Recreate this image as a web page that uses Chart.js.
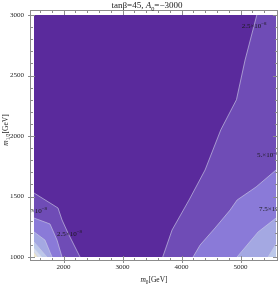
<!DOCTYPE html>
<html lang="en">
<head>
  <meta charset="UTF-8">
  <title>tanβ=45, A0=-3000</title>
  <script src="https://cdn.jsdelivr.net/npm/chart.js"></script>
  <style>
    html, body { margin: 0; padding: 0; background: #fff; }
    #wrap { width: 280px; height: 285px; }
  </style>
</head>
<body>
  <div id="wrap"><canvas id="contourChart" width="280" height="285"></canvas></div>

  <script>
    // axis ranges and ticks
    const xRange = [1500, 5600];
    const yRange = [1000, 3000];
    const xTicks = [2000, 3000, 4000, 5000];
    const yTicks = [1000, 1500, 2000, 2500, 3000];
    const xMinor = [1600, 1800, 2200, 2400, 2600, 2800, 3200, 3400, 3600, 3800, 4200, 4400, 4600, 4800, 5200, 5400];
    const yMinor = [1100, 1200, 1300, 1400, 1600, 1700, 1800, 1900, 2100, 2200, 2300, 2400, 2600, 2700, 2800, 2900];

    // contour boundaries, right side (m0, m1/2)
    const r1X = [5275, 5076, 4930, 4664, 4398, 4127, 3839, 3681];
    const r1Y = [3000, 2628, 2300, 2050, 1719, 1471, 1223, 1000];
    const r2X = [5600, 5263, 4941, 4822, 4568, 4314, 4195];
    const r2Y = [1719, 1579, 1471, 1388, 1240, 1099, 1000];
    const r3X = [5600, 5297, 4940];
    const r3Y = [1322, 1207, 1000];
    const r4X = [5600, 5466];
    const r4Y = [1107, 1000];

    // contour boundaries, lower left corner
    const l1X = [1500, 1907, 1975, 2076, 2280];
    const l1Y = [1529, 1405, 1306, 1198, 1000];
    const l2X = [1500, 1771, 1890, 1975];
    const l2Y = [1322, 1273, 1140, 1000];
    const l3X = [1500, 1686, 1805];
    const l3Y = [1207, 1140, 1000];
    const l4X = [1500, 1720];
    const l4Y = [1124, 1000];
    const l5X = [1500, 1636];
    const l5Y = [1074, 1000];
    const l6X = [1500, 1568];
    const l6Y = [1041, 1000];

    // colours for level 0 (background) .. 6
    const levelColors = ['#5a2a9c', '#6f4cb6', '#8a7ad8', '#a4a8e2', '#bcc8ea', '#d6dded', '#ece6cf'];

    // contour labels: text, x, y, align
    const labelText = ['2.5', '5.', '7.5', '5.', '2.5'];
    const labelX = [5229, 5280, 5314, 1720, 1890];
    const labelY = [2917, 1843, 1397, 1388, 1198];
    const labelAlign = ['center', 'left', 'left', 'right', 'left'];

    const pts = (xs, ys) => xs.map((x, i) => ({ x: x, y: ys[i] }));

    function region(xs, ys, level, closeTop) {
      const data = pts(xs, ys);
      if (xs[0] === xRange[0]) {
        data.push({ x: xRange[0], y: yRange[0] });
      } else {
        data.push({ x: xRange[1], y: yRange[0] });
        if (closeTop) data.push({ x: xRange[1], y: yRange[1] });
      }
      return {
        data: data,
        showLine: true,
        fill: 'shape',
        backgroundColor: levelColors[level],
        borderColor: levelColors[level],
        borderWidth: 0,
        pointRadius: 0,
        tension: 0,
        order: 20 - level
      };
    }

    function contourLine(xs, ys) {
      return {
        data: pts(xs, ys),
        showLine: true,
        fill: false,
        borderColor: 'rgba(205,205,230,0.8)',
        borderWidth: 0.8,
        pointRadius: 0,
        tension: 0,
        order: 0
      };
    }

    const datasets = [
      region(r1X, r1Y, 1, true),
      region(r2X, r2Y, 2),
      region(r3X, r3Y, 3),
      region(r4X, r4Y, 4),
      region(l1X, l1Y, 1),
      region(l2X, l2Y, 2),
      region(l3X, l3Y, 3),
      region(l4X, l4Y, 4),
      region(l5X, l5Y, 5),
      region(l6X, l6Y, 6),
      contourLine(r1X, r1Y), contourLine(r2X, r2Y), contourLine(r3X, r3Y), contourLine(r4X, r4Y),
      contourLine(l1X, l1Y), contourLine(l2X, l2Y), contourLine(l3X, l3Y), contourLine(l4X, l4Y),
      contourLine(l5X, l5Y), contourLine(l6X, l6Y)
    ];

    const SERIF = '"Liberation Serif", "DejaVu Serif", serif';

    // draw a line of text made of parts (italic, subscript, superscript)
    function rich(ctx, parts, x, y, align, size) {
      const segs = parts.map(p => {
        const s = (p.sub || p.sup) ? size * 0.7 : size;
        const font = (p.it ? 'italic ' : '') + s + 'px ' + SERIF;
        ctx.font = font;
        return { t: p.t, font: font, w: ctx.measureText(p.t).width, dy: p.sub ? size * 0.28 : (p.sup ? -size * 0.4 : 0) };
      });
      const total = segs.reduce((a, s) => a + s.w, 0);
      let cx = align === 'center' ? x - total / 2 : (align === 'right' ? x - total : x);
      ctx.textAlign = 'left';
      ctx.textBaseline = 'alphabetic';
      segs.forEach(s => {
        ctx.font = s.font;
        ctx.fillText(s.t, cx, y + s.dy);
        cx += s.w;
      });
    }

    const decor = {
      id: 'decor',
      beforeDraw(chart) {
        const { ctx, chartArea: a } = chart;
        ctx.save();
        ctx.fillStyle = '#fff';
        ctx.fillRect(0, 0, chart.width, chart.height);
        ctx.fillStyle = levelColors[0];
        ctx.fillRect(a.left, a.top, a.right - a.left, a.bottom - a.top);
        ctx.restore();
      },
      afterDraw(chart) {
        const { ctx, chartArea: a } = chart;
        const xs = chart.scales.x, ys = chart.scales.y;
        const fl = a.left - 4, ft = a.top - 5, fr = a.right + 2, fb = a.bottom + 4;
        ctx.save();

        // contour labels, clipped to the frame
        ctx.save();
        ctx.beginPath();
        ctx.rect(fl, ft, fr - fl, fb - ft);
        ctx.clip();
        ctx.fillStyle = '#1a1a1a';
        labelText.forEach((t, i) => {
          rich(ctx, [{ t: t + '×10' }, { t: '−8', sup: true }],
            xs.getPixelForValue(labelX[i]), ys.getPixelForValue(labelY[i]) + 2.5, labelAlign[i], 7);
        });
        ctx.restore();

        // frame
        ctx.strokeStyle = '#8c8c8c';
        ctx.lineWidth = 1;
        ctx.strokeRect(fl + 0.5, ft + 0.5, fr - fl - 1, fb - ft - 1);

        // inward ticks on all four sides
        ctx.beginPath();
        xTicks.forEach(v => {
          const p = Math.round(xs.getPixelForValue(v)) + 0.5;
          ctx.moveTo(p, fb + 2); ctx.lineTo(p, fb - 5);
          ctx.moveTo(p, ft); ctx.lineTo(p, ft + 5);
        });
        xMinor.forEach(v => {
          const p = Math.round(xs.getPixelForValue(v)) + 0.5;
          ctx.moveTo(p, fb); ctx.lineTo(p, fb - 3);
          ctx.moveTo(p, ft); ctx.lineTo(p, ft + 3);
        });
        yTicks.forEach(v => {
          const p = Math.round(ys.getPixelForValue(v)) + 0.5;
          ctx.moveTo(fl - 2, p); ctx.lineTo(fl + 5, p);
          ctx.moveTo(fr, p); ctx.lineTo(fr - 5, p);
        });
        yMinor.forEach(v => {
          const p = Math.round(ys.getPixelForValue(v)) + 0.5;
          ctx.moveTo(fl, p); ctx.lineTo(fl + 3, p);
          ctx.moveTo(fr, p); ctx.lineTo(fr - 3, p);
        });
        ctx.stroke();

        // title and axis titles
        ctx.fillStyle = '#222';
        rich(ctx, [{ t: 'tanβ=45, ' }, { t: 'A', it: true }, { t: '0', sub: true }, { t: '=−3000' }], 147, 8, 'center', 9);
        rich(ctx, [{ t: 'm', it: true }, { t: '0', sub: true }, { t: '[GeV]' }], 154, 282, 'center', 7.5);
        ctx.translate(8, 130);
        ctx.rotate(-Math.PI / 2);
        rich(ctx, [{ t: 'm', it: true }, { t: '1/2', sub: true }, { t: '[GeV]' }], 0, 0, 'center', 7.5);
        ctx.restore();
      }
    };

    const tickFont = { family: SERIF, size: 7 };

    new Chart(document.getElementById('contourChart'), {
      type: 'scatter',
      data: { datasets: datasets },
      options: {
        responsive: false,
        animation: false,
        events: [],
        layout: { padding: { left: 0, right: 4, top: 15, bottom: 0 } },
        plugins: { legend: { display: false }, tooltip: { enabled: false }, title: { display: false } },
        scales: {
          x: {
            type: 'linear',
            min: xRange[0],
            max: xRange[1],
            afterBuildTicks: s => { s.ticks = xTicks.map(v => ({ value: v })); },
            afterFit: s => { s.height = 28; },
            grid: { display: false, drawTicks: false },
            border: { display: false },
            ticks: { font: tickFont, color: '#222', padding: 6, maxRotation: 0, autoSkip: false, callback: v => String(v) }
          },
          y: {
            type: 'linear',
            min: yRange[0],
            max: yRange[1],
            afterBuildTicks: s => { s.ticks = yTicks.map(v => ({ value: v })); },
            afterFit: s => { s.width = 34; },
            grid: { display: false, drawTicks: false },
            border: { display: false },
            ticks: { font: tickFont, color: '#222', padding: 10, autoSkip: false, callback: v => String(v) }
          }
        }
      },
      plugins: [decor]
    });
  </script>
</body>
</html>
